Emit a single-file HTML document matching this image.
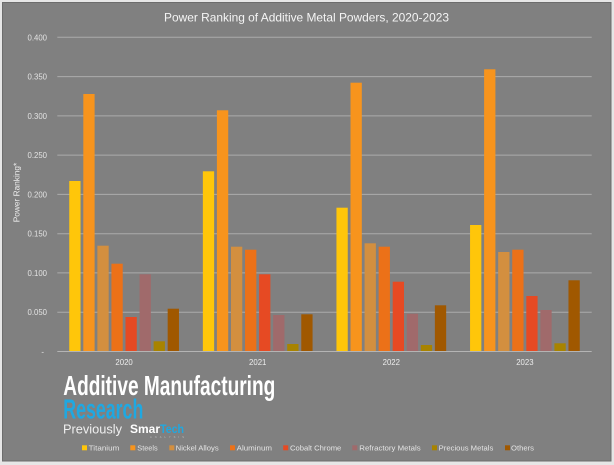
<!DOCTYPE html>
<html>
<head>
<meta charset="utf-8">
<style>
html,body{margin:0;padding:0;background:#eaeaea;}
svg{display:block;}
text{font-family:"Liberation Sans",sans-serif;}
</style>
</head>
<body>
<svg width="614" height="465" viewBox="0 0 614 465" xmlns="http://www.w3.org/2000/svg">
  <rect x="0" y="0" width="614" height="465" fill="#e6e6e6"/>
  <rect x="2.5" y="2.5" width="608.5" height="458.5" fill="#808080" stroke="#6c6c6c" stroke-width="1"/>

  <!-- Title -->
  <text x="164" y="21.7" font-size="12" fill="#f4f4f4" textLength="285" lengthAdjust="spacingAndGlyphs">Power Ranking of Additive Metal Powders, 2020-2023</text>

  <!-- gridlines -->
  <g stroke="#ababab" stroke-width="1">
    <line x1="57.3" y1="37.3" x2="591.7" y2="37.3"/>
    <line x1="57.3" y1="76.6" x2="591.7" y2="76.6"/>
    <line x1="57.3" y1="115.9" x2="591.7" y2="115.9"/>
    <line x1="57.3" y1="155.1" x2="591.7" y2="155.1"/>
    <line x1="57.3" y1="194.4" x2="591.7" y2="194.4"/>
    <line x1="57.3" y1="233.7" x2="591.7" y2="233.7"/>
    <line x1="57.3" y1="272.9" x2="591.7" y2="272.9"/>
    <line x1="57.3" y1="312.2" x2="591.7" y2="312.2"/>
  </g>

  <!-- y labels -->
  <g font-size="7.8" fill="#e2e2e2" text-anchor="end">
    <text x="47" y="40.3">0.400</text>
    <text x="47" y="79.6">0.350</text>
    <text x="47" y="118.9">0.300</text>
    <text x="47" y="158.1">0.250</text>
    <text x="47" y="197.4">0.200</text>
    <text x="47" y="236.7">0.150</text>
    <text x="47" y="275.9">0.100</text>
    <text x="47" y="315.2">0.050</text>
    <text x="44" y="354.5">-</text>
  </g>

  <!-- y axis title -->
  <text transform="translate(19.5,192.5) rotate(-90)" font-size="8.3" fill="#ececec" text-anchor="middle">Power Ranking*</text>

  <!-- bars 2020 -->
  <g>
    <rect x="69.25" y="181" width="11.3" height="170.5" fill="#FFC60A"/>
    <rect x="83.31" y="94" width="11.3" height="257.5" fill="#F7941D"/>
    <rect x="97.37" y="245.7" width="11.3" height="105.8" fill="#D38F3F"/>
    <rect x="111.43" y="263.7" width="11.3" height="87.8" fill="#EC7118"/>
    <rect x="125.49" y="317" width="11.3" height="34.5" fill="#E64A23"/>
    <rect x="139.55" y="274.3" width="11.3" height="77.2" fill="#A06A6B"/>
    <rect x="153.61" y="341.3" width="11.3" height="10.2" fill="#A88300"/>
    <rect x="167.67" y="308.7" width="11.3" height="42.8" fill="#A05800"/>
  </g>
  <!-- bars 2021 -->
  <g>
    <rect x="202.85" y="171.3" width="11.3" height="180.2" fill="#FFC60A"/>
    <rect x="216.91" y="110.3" width="11.3" height="241.2" fill="#F7941D"/>
    <rect x="230.97" y="246.7" width="11.3" height="104.8" fill="#D38F3F"/>
    <rect x="245.03" y="249.7" width="11.3" height="101.8" fill="#EC7118"/>
    <rect x="259.09" y="274.3" width="11.3" height="77.2" fill="#E64A23"/>
    <rect x="273.15" y="315" width="11.3" height="36.5" fill="#A06A6B"/>
    <rect x="287.21" y="344" width="11.3" height="7.5" fill="#A88300"/>
    <rect x="301.27" y="314.3" width="11.3" height="37.2" fill="#A05800"/>
  </g>
  <!-- bars 2022 -->
  <g>
    <rect x="336.45" y="207.7" width="11.3" height="143.8" fill="#FFC60A"/>
    <rect x="350.51" y="82.7" width="11.3" height="268.8" fill="#F7941D"/>
    <rect x="364.57" y="243.3" width="11.3" height="108.2" fill="#D38F3F"/>
    <rect x="378.63" y="246.7" width="11.3" height="104.8" fill="#EC7118"/>
    <rect x="392.69" y="281.7" width="11.3" height="69.8" fill="#E64A23"/>
    <rect x="406.75" y="313.7" width="11.3" height="37.8" fill="#A06A6B"/>
    <rect x="420.81" y="345" width="11.3" height="6.5" fill="#A88300"/>
    <rect x="434.87" y="305.3" width="11.3" height="46.2" fill="#A05800"/>
  </g>
  <!-- bars 2023 -->
  <g>
    <rect x="470.05" y="225" width="11.3" height="126.5" fill="#FFC60A"/>
    <rect x="484.11" y="69.3" width="11.3" height="282.2" fill="#F7941D"/>
    <rect x="498.17" y="252" width="11.3" height="99.5" fill="#D38F3F"/>
    <rect x="512.23" y="249.7" width="11.3" height="101.8" fill="#EC7118"/>
    <rect x="526.29" y="296" width="11.3" height="55.5" fill="#E64A23"/>
    <rect x="540.35" y="310" width="11.3" height="41.5" fill="#A06A6B"/>
    <rect x="554.41" y="343.3" width="11.3" height="8.2" fill="#A88300"/>
    <rect x="568.47" y="280.3" width="11.3" height="71.2" fill="#A05800"/>
  </g>

  <!-- baseline -->
  <line x1="57.3" y1="351.5" x2="591.7" y2="351.5" stroke="#b4b4b4" stroke-width="1"/>

  <!-- x labels -->
  <g font-size="7.8" fill="#ececec" text-anchor="middle">
    <text x="124.1" y="365">2020</text>
    <text x="257.7" y="365">2021</text>
    <text x="391.3" y="365">2022</text>
    <text x="524.9" y="365">2023</text>
  </g>

  <!-- logo -->
  <text x="63.3" y="395" font-size="27.5" font-weight="bold" fill="#ffffff" textLength="212" lengthAdjust="spacingAndGlyphs">Additive Manufacturing</text>
  <text x="63.3" y="418.3" font-size="27.5" font-weight="bold" fill="#1FA8E1" textLength="80" lengthAdjust="spacingAndGlyphs">Research</text>
  <text x="63" y="433.3" font-size="13" fill="#efefef" textLength="59" lengthAdjust="spacingAndGlyphs">Previously</text>
  <text x="130" y="433" font-size="11.5" font-weight="bold" fill="#ffffff" textLength="30" lengthAdjust="spacingAndGlyphs">Smar</text>
  <text x="160" y="433" font-size="11.5" font-weight="bold" fill="#1FA8E1" textLength="24" lengthAdjust="spacingAndGlyphs">Tech</text>
  <text x="150" y="438" font-size="2.6" fill="#bdbdbd" textLength="34" lengthAdjust="spacing">ANALYSIS</text>

  <!-- legend -->
  <g>
    <rect x="82" y="445.3" width="5" height="5" fill="#FFC60A"/>
    <rect x="130.3" y="445.3" width="5" height="5" fill="#F7941D"/>
    <rect x="169.3" y="445.3" width="5" height="5" fill="#D38F3F"/>
    <rect x="230" y="445.3" width="5" height="5" fill="#EC7118"/>
    <rect x="283.2" y="445.3" width="5" height="5" fill="#E64A23"/>
    <rect x="352.3" y="445.3" width="5" height="5" fill="#A06A6B"/>
    <rect x="432" y="445.3" width="5" height="5" fill="#A88300"/>
    <rect x="505" y="445.3" width="5" height="5" fill="#A05800"/>
  </g>
  <g font-size="7.6" fill="#e4e4e4">
    <text x="88.7" y="450.5" textLength="30.6" lengthAdjust="spacingAndGlyphs">Titanium</text>
    <text x="137.3" y="450.5" textLength="20.4" lengthAdjust="spacingAndGlyphs">Steels</text>
    <text x="175.7" y="450.5" textLength="43" lengthAdjust="spacingAndGlyphs">Nickel Alloys</text>
    <text x="236.7" y="450.5" textLength="35.3" lengthAdjust="spacingAndGlyphs">Aluminum</text>
    <text x="290" y="450.5" textLength="51.3" lengthAdjust="spacingAndGlyphs">Cobalt Chrome</text>
    <text x="359.3" y="450.5" textLength="61.4" lengthAdjust="spacingAndGlyphs">Refractory Metals</text>
    <text x="438.7" y="450.5" textLength="54.6" lengthAdjust="spacingAndGlyphs">Precious Metals</text>
    <text x="511" y="450.5" textLength="23" lengthAdjust="spacingAndGlyphs">Others</text>
  </g>
</svg>
</body>
</html>
